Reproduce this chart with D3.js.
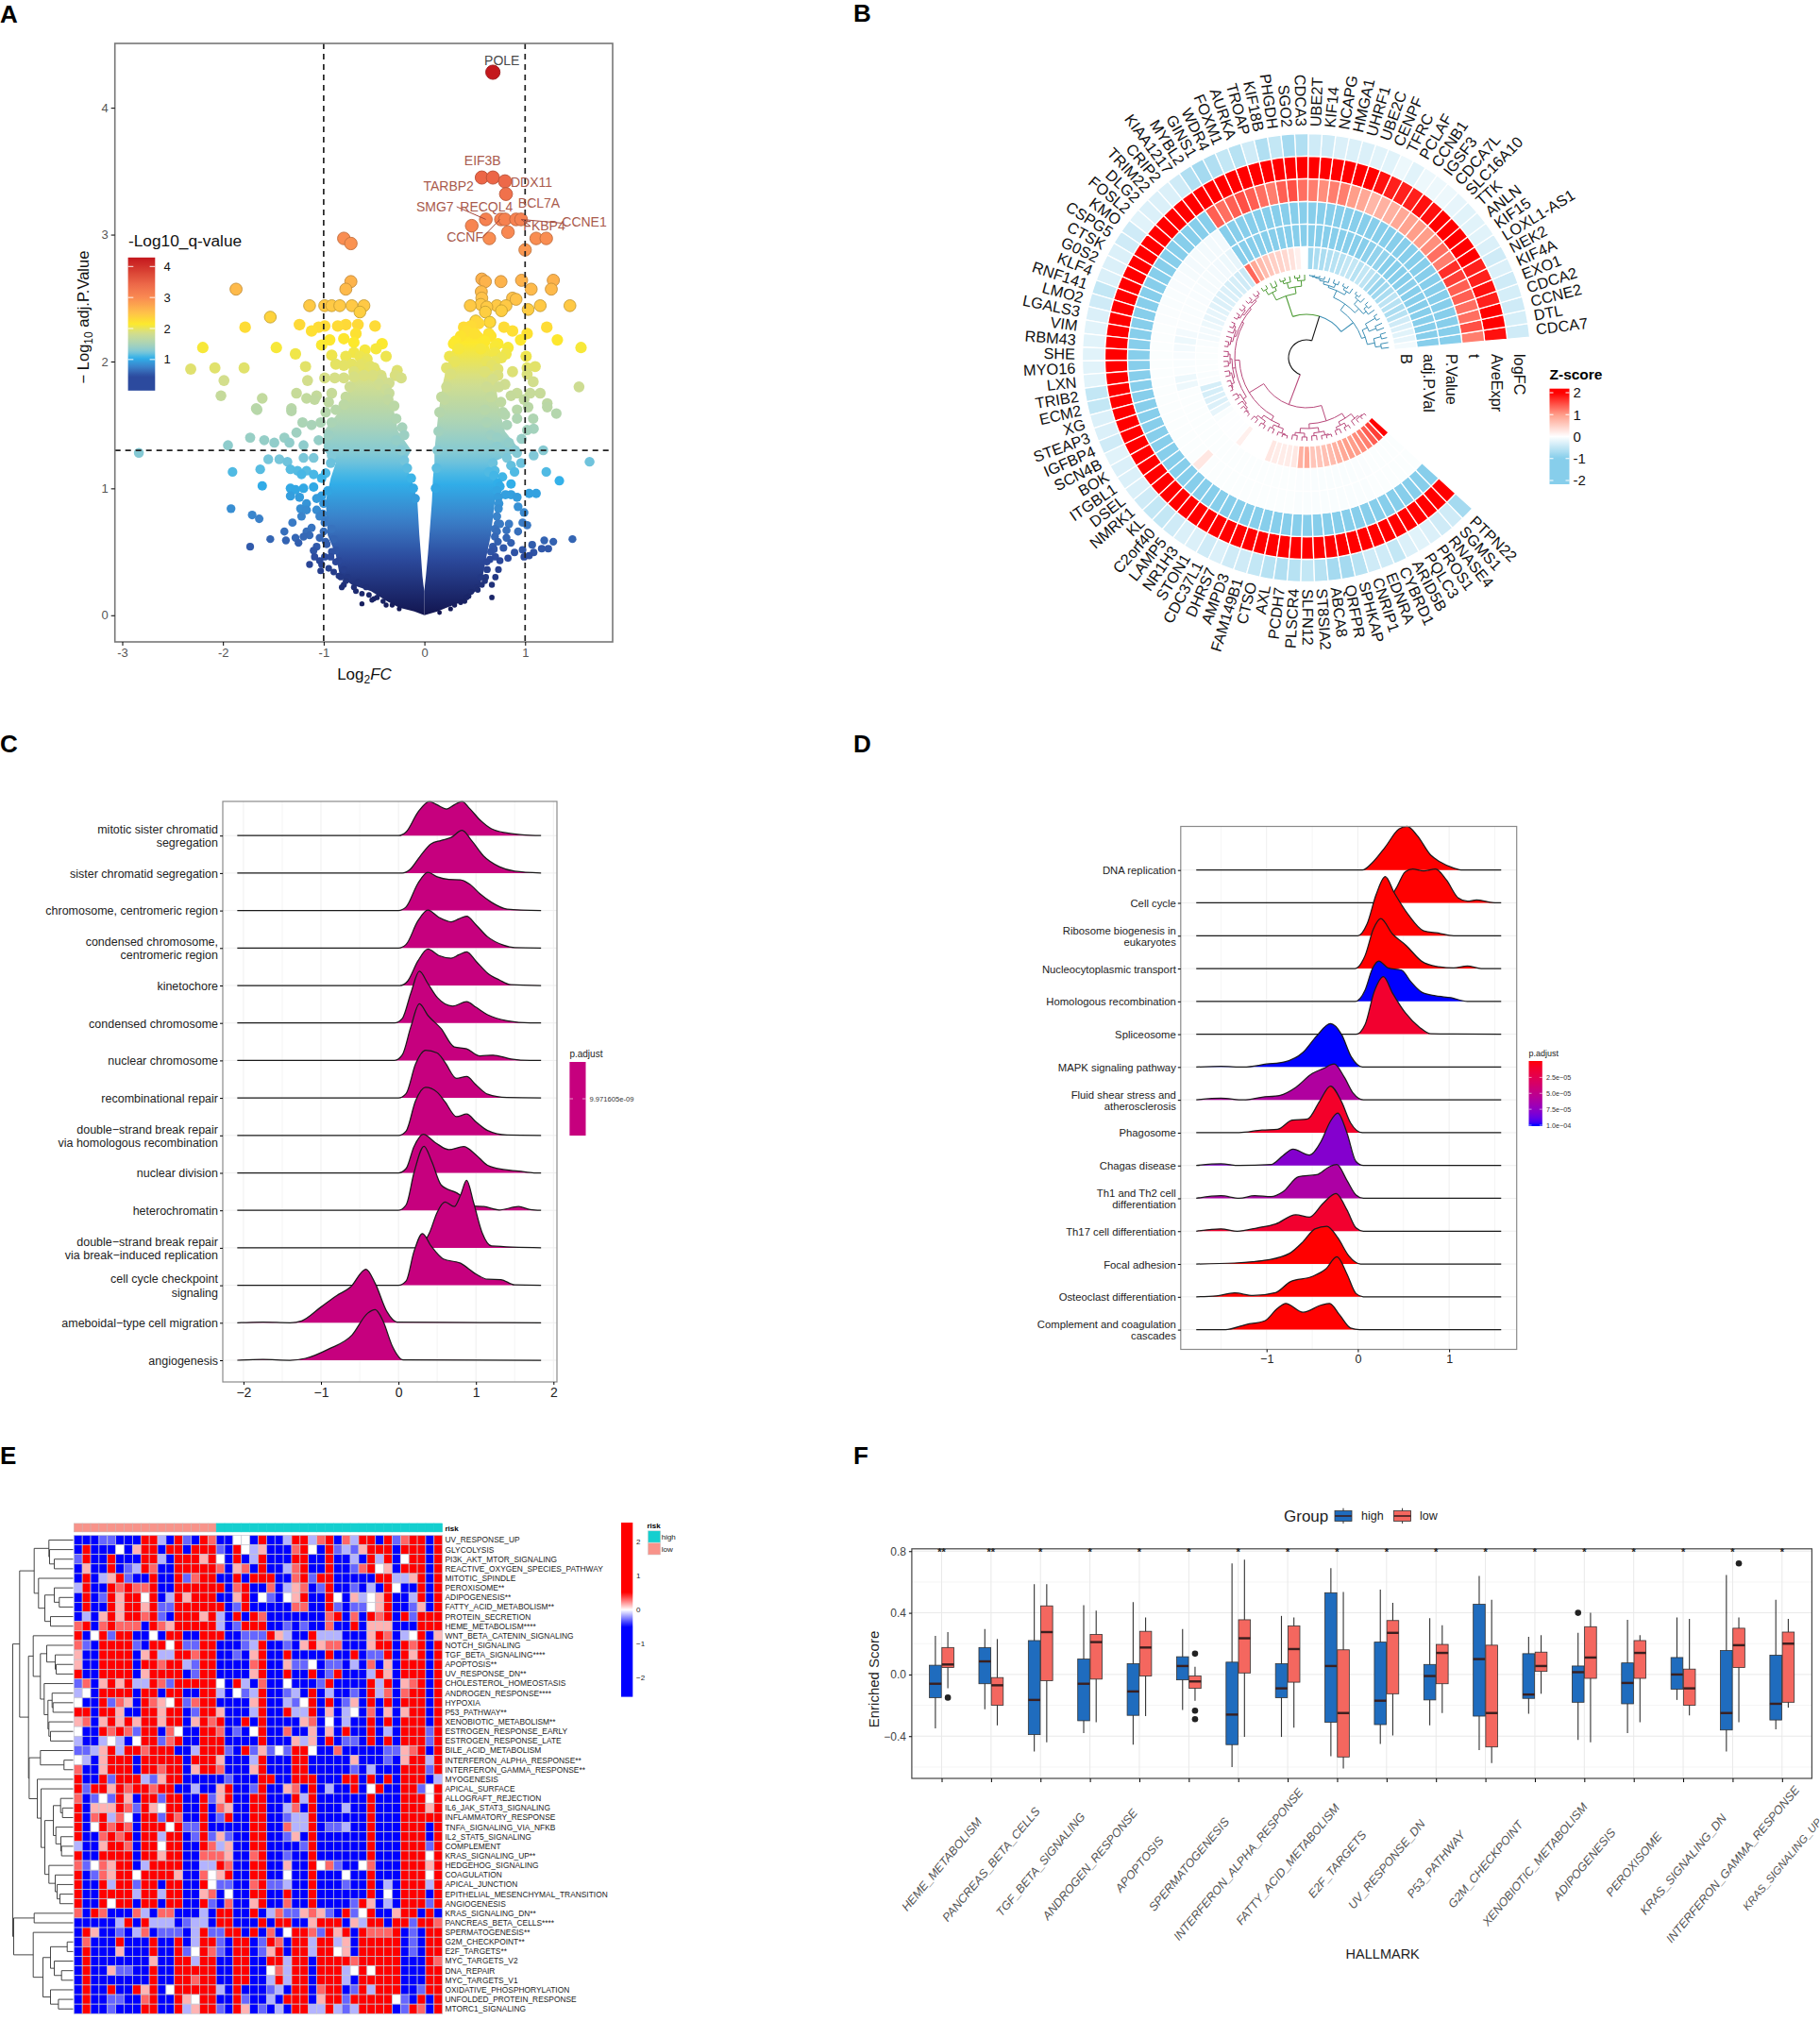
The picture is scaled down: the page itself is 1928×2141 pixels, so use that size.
<!DOCTYPE html>
<html>
<head>
<meta charset="utf-8">
<script src="https://cdn.jsdelivr.net/npm/d3@7"></script>
<style>
body{margin:0;background:#fff}
text{font-family:"Liberation Sans",Arial,sans-serif}
</style>
</head>
<body>
<div id="fig"></div>
<script>
// ---------- panel A data ----------
const volcanoPoints = [
[.68,4.28],[.57,3.45],[.68,3.45],[.8,3.42],[.81,3.32],[.47,3.07],[.61,3.12],[.76,3.12],[.8,3.12],[.91,3.12],[.96,3.12],[.83,3.02],[.645,2.97],[1.11,2.97],[1.21,2.97],[1,2.88],[-.8,2.97],[-.73,2.93],
[-.73,2.63],[-.78,2.57],[-1.87,2.57],[.57,2.65],[.605,2.63],[.76,2.63],[.965,2.64],[1.28,2.64],[1.06,2.57],[1.26,2.57],[.565,2.55],[.57,2.5],[.875,2.5],[.91,2.49],
[.455,2.44],[.56,2.45],[.62,2.43],[.72,2.44],[.81,2.44],[1.03,2.41],[1.15,2.44],[1.445,2.44],[.605,2.39],[.765,2.4],[.51,2.32],[.65,2.31],[.39,2.27],[.79,2.27],[.875,2.24],[1.215,2.27],[1.02,2.22],[1.32,2.17],[1.555,2.11],[.955,2.17],[.31,2.16],
[1.01,2.04],[.83,2.11],[.81,2.06],[1.1,1.96],[1.535,1.8],[1.02,1.95],[.875,1.92],[1.08,1.84],[1.02,1.9],[1.05,1.75],[1.15,1.75],[1.22,1.67],[.92,1.75],[.86,1.73],[.99,1.7],[.73,2.14],[.7,2.07],[.765,2.03],[.67,1.97],[.73,1.89],[.8,1.82],
[-1.53,2.35],[-1.78,2.27],[-2.2,2.11],[-1.47,2.11],[-2.32,1.94],[-2.08,1.95],[-1.79,1.95],[-1.99,1.85],[-1.28,2.06],[-1.18,1.96],[-1.16,1.85],[-2.02,1.73],[-1.61,1.71],[-1.67,1.63],[-1.32,1.63],[-1.27,1.75],[-1.17,1.71],[-1.07,1.73],[-1.09,1.7],
[-1.14,2.44],[-1.24,2.29],[-1.12,2.24],[-1.05,2.27],[-.99,2.28],[-1.02,2.13],[-.94,2.17],[-.99,2.44],[-.92,2.44],[-.84,2.44],[-.72,2.44],[-.6,2.44],[-.64,2.39],[-.86,2.28],[-.78,2.29],[-.66,2.29],[-.49,2.28],[-.68,2.22],[-.8,2.18],[-.7,2.15],[-.42,2.14],[-.48,2.1],[-.59,2.09],[-.38,2.04],[-.92,2.05],[-.99,1.87],[-.7,2.07],[-.78,2.04],[-.64,2.04],[-.57,2.02],[-.88,1.98],[-.8,1.97],[-.72,1.98],[-.64,1.97],[-.54,1.96],[-.27,1.93],[-.23,1.87],[-.29,1.89],[-.43,1.89],[-.35,1.83],[-.51,1.89],[-.6,1.89],[-.7,1.88],[-.8,1.87],[-.89,1.87],[-.35,1.75],[-.45,1.82],
[-.92,1.75],[-.95,1.68],[-.88,1.62],[-.98,1.6],[-1.03,1.52],[-1.12,1.5],[-.92,1.52],[-.3,1.65],[-.28,1.55],[-.22,1.48],[-.2,1.42],[-.95,1.42],[-1.05,1.38],
[-2.835,1.28],[-1.95,1.34],[-1.73,1.4],[-1.59,1.38],[-1.49,1.36],[-1.39,1.4],[-1.34,1.36],[-1.27,1.44],[-1.21,1.52],[-1.2,1.34],[-1.66,1.62],[-1.32,1.61],[-1.55,1.23],[-1.44,1.23],[-1.36,1.21],[-1.2,1.24],[-1.1,1.24],
[-1.905,1.13],[-1.63,1.15],[-1.61,1.02],[-1.92,.84],[-1.71,.79],[-1.64,.76],[-1.73,.54],[-1.53,.6],[-1.39,.66],[-1.375,.59],[-1.33,1.15],[-1.26,1.14],[-1.22,1.11],[-1.17,1.14],[-1.1,1.11],[-1.33,1],[-1.28,.99],[-1.2,1],[-1.1,1.01],[-1.33,.94],[-1.24,.93],[-1.17,.88],[-1.23,.84],[-1.17,.83],[-1.07,.92],[-1.07,.83],[-1.04,.78],[-1.22,.78],[-1.31,.73],[-1.12,.69],[-1.17,.66],[-1.2,.62],[-1.28,.61],[-1.25,.57],[-1.14,.63],[-1.04,.61],[-.98,.58],[-.99,.73],[-1.07,.54],[-1.1,.51],[-.99,.46],[-1.09,.46],[-1.14,.4],[-1.04,.43],[-1.02,.4],[-1.03,.35],[-.95,.37],[-.88,.51],[-.85,.43],[-.85,.31],[-.8,.24],[-.82,.22],[-.68,.19],[-.55,.16],[-.52,.12],[-.62,.09],[-.41,.11],
[-1.02,1.08],[-.96,.98],[-1,.88],[-.98,.75],[-.92,.68],[-.9,.6],[-.92,.5],[-.88,.42],[-.8,.36],[-.76,.3],[-.66,.26],[-.58,.22],[-.47,.14],[-.32,.08],
[1.64,1.21],[1.21,1.13],[1.34,1.06],[1.18,1.3],[1.085,1.26],[1.04,.96],[1.11,.96],[1.47,.6],[1.19,.59],[1.28,.58],[1.23,.525],[1.165,.525],[1.07,.555],[1.085,.495],[1.04,.47],[.99,.46],[.975,.515],[.895,.495],[.86,.57],[.815,.61],[.73,.58],[.785,.53],[.83,.45],[.75,.43],[.705,.46],[.69,.52],[.735,.36],[.625,.36],[.705,.3],[.61,.3],[.67,.24],[.57,.24],[.67,.14],[.465,.185],[.4,.11],
[1.02,.71],[.975,.73],[.93,.66],[.84,.72],[.75,.72],[.815,.67],[.72,.66],[.99,.81],[.93,.855],[.735,.84],[.92,.93],[.86,.95],[.805,.95],[.735,.93],[.86,1.035],[.75,1.015],[.775,1.09],[.69,1.1],[.895,1.13],[.64,1.13],[.86,1.18],[.965,1.39],[1.02,1.46],[1.085,1.47],[1.08,1.55],[1.31,1.59],[1.22,1.64],[1.03,1.64],
[.7,.62],[.66,.5],[.62,.42],[.56,.3],[.52,.22],[.42,.14],[.3,.08],[.72,.78],[.72,.98],[.68,1.2],[.82,1.24],[.92,1.28],[.72,1.33],[.84,1.36],[.66,1.42],[.62,1.52],[.82,1.5],[.92,1.55],[.92,1.62],[.8,1.58],[.6,1.62],[.66,1.72],[.62,1.8],[.68,1.86],[.6,1.92],[.62,2],[.56,2.1],[.6,2.16],[.66,2.2],[.5,2.22],[.42,2.24],[.34,2.1],[.3,2],[.26,1.9],[.22,1.8],[.2,1.7],
// rough rim of the dense cloud
[-.9,.34],[-.83,.3],[-.78,.27],[-.7,.22],[-.62,.17],[-.5,.13],[-.38,.08],[-.25,.05],[-.93,.46],[-.97,.56],[-1,.66],[-1.01,.8],[-1.02,.94],[-.98,1.12],[-.93,1.2],[-.92,1.26],
[.15,.02],[.26,.05],[.36,.1],[.44,.15],[.53,.2],[.6,.27],[.62,.36],[.65,.44],[.68,.54],[.7,.68],[.73,.72],[.74,.88],[.73,1.04],[.7,1.14],[.8,1.28],[.9,1.3],
[-.28,1.38],[-.23,1.3],[-.2,1.22],[-.17,1.16],[-.13,1.08],[-.11,1],[-.09,.92],[.11,1],[.12,1.16],[.13,1.3],[.14,1.45],[.15,1.6],[.17,1.72],
[-.8,1.66],[-.78,1.72],[-.74,1.8],[-.7,1.92],[-.62,1.98],[-.36,1.7],[-.38,1.78],[-.42,1.86],[-.5,1.95],[-.58,2],
[.22,1.95],[.25,2.04],[.29,2.14],[.36,2.2],[.46,2.28],[.54,2.3],[.7,2],[.73,1.94],[.74,1.8],[.76,1.68],[.78,1.6],[.7,2.12],[.64,2.22],[.72,1.4],[.96,1.2]
];
const coreY = [0,.03,.06,.11,.19,.24,.31,.48,.63,.9,1.08,1.2,1.3,1.45,1.6,1.75,1.85,1.95,2.02,2.1,2.2,2.28];
const coreLeftOuter = [0,-.1,-.25,-.37,-.53,-.72,-.84,-.88,-.96,-.98,-.93,-.88,-1,-1,-.85,-.76,-.72,-.68,-.56,-.56,-.56,-.56];
const coreLeftInner = [0,0,0,0,0,-.01,-.02,-.035,-.05,-.07,-.13,-.2,-.13,-.26,-.3,-.34,-.38,-.44,-.54,-.56,-.56,-.56];
const coreRightInner = [0,0,0,0,0,.005,.015,.035,.05,.075,.085,.1,.1,.12,.14,.17,.19,.22,.25,.28,.34,.42];
const coreRightOuter = [0,.13,.22,.39,.51,.55,.58,.62,.66,.7,.7,.66,.95,.8,.75,.72,.7,.68,.67,.65,.6,.5];
const geneLabels = ["POLE","EIF3B","TARBP2","DDX11","BCL7A","SMG7","RECQL4","CCNE1","FKBP4","CCNF"];
const geneLabelX = [.77,.578,.24,1.063,1.138,.105,.616,1.588,1.19,.403];
const geneLabelY = [4.37,3.58,3.38,3.41,3.25,3.22,3.22,3.1,3.07,2.98];
const geneLinks = [[.32,3.22,.61,3.12],[.96,3.12,1.37,3.09],[.58,2.98,.75,3.12],[.96,3.12,1.05,3.07]];
const qStops = [0,.45,.75,1.05,1.25,1.5,1.85,2.15,2.5,3,3.4,4.3];
const qColors = ["#12154f","#2c4a9e","#3b7fc8","#30b0ea","#7fc8d8","#a9d3b8","#d3de8c","#fde92c","#ffc24a","#f98a52","#ee6b4a","#c3161c"];
const qTicks = [1,2,3,4];

// ---------- panel B data ----------
const ringNames = ["logFC","AveExpr","t","P.Value","adj.P.Val","B"];
const circGenes = ["CDCA7","DTL","CCNE2","CDCA2","EXO1","KIF4A","NEK2","LOXL1-AS1","KIF15","ANLN","TTK","SLC16A10","CDCA7L","IGSF3","CCNB1","PCLAF","TFRC","CENPF","UBE2C","UHRF1","HMGA1","NCAPG","KIF14","UBE2T","CDCA3","SGO2","PHGDH","KIF18B","TROAP","AURKA","FOXM1","WDR4","GINS1","MYBL2","KIAA1217","CRIP2","TRIM22","DLG2","FOSL2","KMO","CSPG5","CTSK","G0S2","KLF4","RNF141","LMO2","LGALS3","VIM","RBM43","SHE","MYO16","LXN","TRIB2","ECM2","XG","STEAP3","IGFBP4","SCN4B","BOK","ITGBL1","DSEL","NMRK1","KL","C2orf40","LAMP5","NR1H3","STON1","CDC37L1","DHRS7","AMPD3","FAM149B1","CTSO","AXL","PCDH7","PLSCR4","SLFN12","ST8SIA2","ABCA8","QRFPR","SPHKAP","CNRIP1","EDNRA","CYBRD1","ARID5B","PQLC3","PROS1","RNASE4","SGMS1","PTPN22"];
const ringLogFC = [-.4,-.35,-.4,-.35,-.4,-.3,-.4,-.3,-.25,-.25,-.25,-.2,-.15,-.15,-.15,-.25,-.15,-.25,-.25,-.3,-.3,-.3,-.4,-.4,-.65,-.75,-.5,-.65,-.4,-.6,-.5,-.65,-.75,-.65,-.4,-.3,-.3,-.3,-.25,-.4,-.4,-.3,-.3,-.3,-.5,-.4,-.3,-.25,-.25,-.25,-.25,-.25,-.5,-.5,-.3,-.3,-.4,-.25,-.3,-.3,-.3,-.4,-.5,-.5,-.4,-.3,-.3,-.4,-.3,-.4,-.4,-.5,-.6,-.65,-.6,-.5,-.6,-.75,-.75,-.6,-.4,-.4,-.5,-.3,-.25,-.3,-.4,-.4,-.75];
const ringAveExpr = [1.9,2,2,1.8,1.9,1.8,1.8,2,2,2,2,2,1.9,1.9,1.8,1.8,1.8,1.9,2,2,2,2,2,2,2,2,2,2,2,2,2,2,2,2,2,2,2,2,2,2,2,2,2,2,2,2,2,2,2,2,2,2,2,2,2,2,2,2,2,2,2,2,2,2,2,2,2,2,2,2,2,2,2,2,2,2,2,2,2,2,2,2,2,2,2,2,2,2,2];
const ringT = [1.2,1.5,1.3,1.3,1.4,1.4,1.6,1.7,1.2,1.3,1.1,1,1,.95,.9,.8,.8,.75,.9,1,1.2,1.2,1.1,1.2,1.3,1.5,1.4,1.2,1.3,1.4,1.5,1.4,1.3,1.4,-1.2,-1.2,-1.3,-1.2,-1.3,-1.2,-1.2,-1.3,-1.3,-1.3,-1.2,-1.3,-1.3,-1.4,-1.4,-1.3,-1.3,-1.3,-1.2,-1.2,-1.2,-1.3,-1.3,-1.2,-1.2,-1.3,-1.3,-1.3,-1.3,-1.2,-1.3,-1.3,-1.3,-1.2,-1.2,-1.3,-1.3,-1.4,-1.3,-1.2,-1.4,-1.3,-1.2,-1.3,-1.3,-1.3,-1.2,-1.3,-1.3,-1.2,-1.3,-1.4,-1.3,-1.3,-1.4];
const ringP = [-1.2,-1.2,-1.2,-1.25,-1.15,-1.2,-1.3,-1.2,-1.1,-1.2,-1.3,-1.3,-1.2,-1.15,-1.1,-1.15,-1.15,-1.15,-1.15,-1.2,-1.2,-1.2,-1.3,-1.2,-1.25,-1.25,-1.25,-1.25,-1.3,-1.3,-1.3,-1.2,-1.2,-1.2,-.1,-.1,-.1,-.08,-.1,-.08,-.06,-.06,-.05,-.05,-.04,-.04,-.03,-.03,-.03,-.03,-.03,-.03,-.03,-.03,-.03,-.03,-.03,-.03,-.03,-.03,-.03,-.03,.25,-.03,-.03,-.03,-.03,-.03,-.03,-.03,-.03,-.03,-.03,-.03,-.05,-.05,-.05,-.05,-.05,-.05,-.05,-.05,-.05,-.03,-.03,-.03,-.03,-.03,-.03];
const ringAdj = [-1,-1,-1,-1.05,-1,-1.05,-1.1,-1.05,-.95,-1,-1.05,-1.1,-1,-.9,-.9,-.95,-1,-1,-1,-1,-1.05,-1.05,-1.1,-1.05,-1.1,-1.1,-1.1,-1.1,-1.15,-1.15,-1.15,-1.1,-1.1,-1.1,-.2,-.15,-.12,-.1,-.08,-.08,-.07,-.06,-.05,-.05,-.04,-.04,-.1,-.15,-.1,-.06,-.05,-.05,-.15,-.15,-.03,-.03,-.03,-.03,-.03,-.03,-.03,-.03,-.03,-.03,-.03,-.03,-.03,-.03,-.03,-.03,-.03,-.03,-.03,-.03,-.04,-.04,-.05,-.05,-.05,-.05,-.05,-.05,-.04,-.04,-.03,-.03,-.03,-.03,-.03];
const ringB = [-.1,-.2,-.25,-.3,-.4,-.6,-.7,-.6,-.55,-.7,-.8,-.85,-.7,-.55,-.5,-.6,-.5,-.5,-.6,-.6,-.65,-.7,-.7,-.8,0,.15,.3,.4,.45,.5,.6,.7,.9,1.35,-.45,-.4,-.35,-.35,-.3,-.3,-.3,-.25,-.2,-.2,-.15,-.1,-.1,-.05,-.03,-.03,-.03,-.03,-.05,-.05,-.35,-.35,-.3,-.3,-.2,-.05,-.02,-.02,-.02,-.02,.15,0,0,0,0,.25,.2,.2,.2,.25,.8,.9,.6,.6,.65,.7,.8,.9,1,1,1.1,1.2,1.4,1.6,2.3];
const ringValues = [ringLogFC,ringAveExpr,ringT,ringP,ringAdj,ringB];
const zScoreTicks = [2,1,0,-1,-2];
const zScoreStops = [-2,-1,0,1,2];
const zScoreColors = ["#87ceeb","#87ceeb","#ffffff","#ff9e8a","#ff0000"];
// dendrogram nodes are [radius, child, child, ...], a bare number is a gene index
const treeBlue = [62,
  [66,[74,[80,0,1],[82,2,3]],[72,[80,4,5],[84,6,7]]],
  [70,[76,[80,8,[84,9,10]],[82,11,[85,12,13]]],[78,[82,14,[85,15,16]],[80,[84,17,18],[83,19,[85,20,[86,21,[87,22,23]]]]]]]];
const treeGreen = [69,[76,[82,24,[85,25,26]],[82,27,[85,28,29]]],[78,[82,30,31],[84,32,33]]];
const treeMagenta = [53,
  [71,
    [76,[78,[80,[82,[84,34,35],[84,36,37]],[82,[84,38,39],[84,40,41]]],[80,[82,[84,42,43],44],[82,45,[84,46,47]]]],[79,[81,[83,48,49],[83,50,51]],[81,[83,52,53],[84,54,[85,55,56]]]],[80,[83,57,58],[82,59,[84,60,[85,61,62]]]]],
    [76,[80,[83,63,64],[84,65,66]],[79,[83,67,68],[84,69,[85,70,71]]]]],
  [70,
    [75,[80,[83,72,73],[84,74,75]],[80,[83,76,77],[84,78,[85,79,80]]]],
    [76,[80,[83,81,82],[84,83,84]],[82,85,[84,86,[85,87,88]]]]]];

// ---------- panel C data: density control points [x, height in row steps] ----------
const ridgeLabelsC = ["mitotic sister chromatid\nsegregation","sister chromatid segregation","chromosome, centromeric region","condensed chromosome,\ncentromeric region","kinetochore","condensed chromosome","nuclear chromosome","recombinational repair","double−strand break repair\nvia homologous recombination","nuclear division","heterochromatin","double−strand break repair\nvia break−induced replication","cell cycle checkpoint\nsignaling","ameboidal−type cell migration","angiogenesis"];
const ridgesC = [
[[-2.08,0],[0,0],[.1,.1],[.25,.62],[.4,.91],[.5,.82],[.62,.71],[.72,.82],[.82,.91],[.92,.72],[1.05,.42],[1.2,.18],[1.4,.07],[1.6,.02],[1.84,0]],
[[-2.08,0],[.05,0],[.15,.1],[.28,.45],[.42,.78],[.55,.87],[.68,.95],[.82,1.14],[.95,.85],[1.1,.45],[1.3,.17],[1.5,.05],[1.84,0]],
[[-2.08,0],[0,0],[.1,.1],[.25,.72],[.38,1.02],[.5,.9],[.65,.83],[.8,.82],[.92,.7],[1.05,.45],[1.2,.22],[1.4,.04],[1.84,0]],
[[-2.08,0],[0,0],[.1,.1],[.25,.72],[.38,1.01],[.52,.82],[.68,.7],[.78,.78],[.88,.85],[1,.62],[1.15,.3],[1.35,.08],[1.5,.01],[1.84,0]],
[[-2.08,0],[.02,0],[.12,.12],[.25,.65],[.38,.97],[.52,.8],[.68,.73],[.78,.82],[.88,.9],[1,.65],[1.15,.33],[1.3,.15],[1.45,.02],[1.84,0]],
[[-2.08,0],[-.05,0],[.05,.12],[.16,.8],[.27,1.38],[.38,1.05],[.5,.68],[.7,.45],[.88,.57],[1,.42],[1.15,.22],[1.4,.06],[1.7,0],[1.84,0]],
[[-2.08,0],[-.05,0],[.05,.15],[.16,.9],[.27,1.51],[.38,1.2],[.55,.85],[.72,.36],[.88,.31],[1.05,.12],[1.22,.14],[1.45,.04],[1.7,0],[1.84,0]],
[[-2.08,0],[0,0],[.1,.12],[.22,.9],[.35,1.27],[.5,1.2],[.6,.95],[.75,.52],[.88,.57],[1,.35],[1.15,.1],[1.4,.01],[1.84,0]],
[[-2.08,0],[0,0],[.1,.12],[.22,.92],[.35,1.28],[.5,1.15],[.6,.9],[.75,.5],[.88,.57],[1,.36],[1.15,.13],[1.4,.01],[1.84,0]],
[[-2.08,0],[0,0],[.1,.12],[.2,.7],[.32,1.03],[.48,.8],[.65,.62],[.84,.7],[1,.48],[1.15,.2],[1.35,.09],[1.55,.05],[1.75,0],[1.84,0]],
[[-2.08,0],[0,0],[.1,.15],[.2,1],[.33,1.71],[.43,1.3],[.55,.68],[.8,.4],[.92,.12],[1.1,.1],[1.3,.01],[1.55,.1],[1.7,.02],[1.84,0]],
[[-2.08,0],[.25,0],[.4,.4],[.5,.95],[.6,1.22],[.72,1.1],[.8,1.4],[.88,1.8],[.97,1.2],[1.08,.4],[1.2,.05],[1.84,0]],
[[-2.08,0],[0,0],[.1,.12],[.2,.9],[.31,1.38],[.42,1.05],[.58,.7],[.8,.59],[1,.3],[1.15,.16],[1.32,.15],[1.5,.01],[1.84,0]],
[[-2.08,0],[-1.75,.02],[-1.4,0],[-1.25,.05],[-1,.42],[-.8,.72],[-.62,.95],[-.42,1.43],[-.3,1.05],[-.15,.3],[-.02,.02],[1.84,0]],
[[-2.08,0],[-1.75,.02],[-1.4,0],[-1.2,.05],[-.9,.3],[-.6,.67],[-.4,1.25],[-.3,1.35],[-.2,1.05],[-.08,.38],[.06,.01],[1.84,0]]
];

// ---------- panel D data ----------
const ridgeLabelsD = ["DNA replication","Cell cycle","Ribosome biogenesis in\neukaryotes","Nucleocytoplasmic transport","Homologous recombination","Spliceosome","MAPK signaling pathway","Fluid shear stress and\natherosclerosis","Phagosome","Chagas disease","Th1 and Th2 cell\ndifferentiation","Th17 cell differentiation","Focal adhesion","Osteoclast differentiation","Complement and coagulation\ncascades"];
const ridgesD = [
[[-1.77,0],[.05,0],[.15,.2],[.3,.7],[.45,1.25],[.54,1.33],[.65,1.05],[.8,.45],[.9,.25],[1.05,.06],[1.15,0],[1.57,0]],
[[-1.77,0],[.3,0],[.42,.45],[.52,.95],[.6,1.03],[.72,.97],[.85,1.03],[.97,.7],[1.1,.15],[1.2,.05],[1.3,.09],[1.45,.02],[1.57,0]],
[[-1.77,0],[0,0],[.1,.35],[.2,1.25],[.3,1.8],[.4,1.3],[.55,.65],[.72,.15],[.88,.08],[1.05,0],[1.57,0]],
[[-1.77,0],[-.03,0],[.08,.4],[.17,1.2],[.25,1.52],[.38,1.05],[.53,.7],[.7,.22],[.85,.07],[1.05,.02],[1.2,.08],[1.35,0],[1.57,0]],
[[-1.77,0],[-.03,0],[.08,.35],[.16,1],[.23,1.23],[.33,1.02],[.48,.95],[.58,.6],[.7,.28],[.85,.17],[1.02,.11],[1.2,0],[1.57,0]],
[[-1.77,0],[-.02,0],[.08,.3],[.18,1.3],[.28,1.75],[.38,1.25],[.52,.65],[.68,.2],[.8,.01],[1.57,0]],
[[-1.77,0],[-1.5,.02],[-1.25,0],[-1,.09],[-.8,.16],[-.6,.45],[-.45,.95],[-.3,1.32],[-.18,1],[-.07,.3],[.05,0],[1.57,0]],
[[-1.77,0],[-1.5,.05],[-1.25,0],[-1.05,.08],[-.85,.14],[-.68,.38],[-.5,.8],[-.38,.95],[-.26,1.09],[-.15,.7],[-.05,.2],[.06,0],[1.57,0]],
[[-1.77,0],[-1.3,0],[-1.05,.08],[-.88,.1],[-.72,.38],[-.55,.42],[-.42,.95],[-.3,1.42],[-.18,.95],[-.08,.3],[.05,0],[1.57,0]],
[[-1.77,0],[-1.5,.05],[-1.3,0],[-.95,.03],[-.82,.3],[-.71,.5],[-.53,.32],[-.4,.75],[-.3,1.35],[-.22,1.6],[-.12,1],[-.02,.12],[.06,0],[1.57,0]],
[[-1.77,0],[-1.5,.08],[-1.3,0],[-1.13,.08],[-.95,.05],[-.82,.2],[-.65,.66],[-.45,.72],[-.32,.95],[-.23,1.03],[-.12,.55],[-.02,.1],[.06,0],[1.57,0]],
[[-1.77,0],[-1.5,.07],[-1.32,0],[-1.1,.1],[-.9,.22],[-.68,.5],[-.53,.43],[-.38,.85],[-.24,1.15],[-.12,.65],[-.02,.1],[.06,0],[1.57,0]],
[[-1.77,0],[-1.35,.03],[-1.15,.07],[-1,.12],[-.75,.32],[-.6,.68],[-.47,1.07],[-.34,1.15],[-.22,.8],[-.1,.25],[.03,0],[1.57,0]],
[[-1.77,0],[-1.55,.03],[-1.35,.12],[-1.15,.04],[-.9,.13],[-.74,.46],[-.5,.62],[-.35,.85],[-.23,1.22],[-.12,.7],[-.02,.1],[.06,0],[1.57,0]],
[[-1.77,0],[-1.45,0],[-1.22,.16],[-1.02,.27],[-.88,.65],[-.79,.8],[-.6,.53],[-.4,.75],[-.31,.8],[-.2,.45],[-.08,.05],[.02,0],[1.57,0]]
];
const pAdjustD = [0,0,0,0,1e-4,1.2e-5,1e-4,6e-5,1e-5,8e-5,6.2e-5,1.2e-5,0,0,0];
const pAdjustTicks = [2.5e-5,5e-5,7.5e-5,1e-4];

// ---------- panel E data: B b l w p s R run from strong blue through white to strong red ----------
const heatLabels = ["UV_RESPONSE_UP","GLYCOLYSIS","PI3K_AKT_MTOR_SIGNALING","REACTIVE_OXYGEN_SPECIES_PATHWAY","MITOTIC_SPINDLE","PEROXISOME**","ADIPOGENESIS**","FATTY_ACID_METABOLISM**","PROTEIN_SECRETION","HEME_METABOLISM****","WNT_BETA_CATENIN_SIGNALING","NOTCH_SIGNALING","TGF_BETA_SIGNALING****","APOPTOSIS**","UV_RESPONSE_DN**","CHOLESTEROL_HOMEOSTASIS","ANDROGEN_RESPONSE****","HYPOXIA","P53_PATHWAY**","XENOBIOTIC_METABOLISM**","ESTROGEN_RESPONSE_EARLY","ESTROGEN_RESPONSE_LATE","BILE_ACID_METABOLISM","INTERFERON_ALPHA_RESPONSE**","INTERFERON_GAMMA_RESPONSE**","MYOGENESIS","APICAL_SURFACE","ALLOGRAFT_REJECTION","IL6_JAK_STAT3_SIGNALING","INFLAMMATORY_RESPONSE","TNFA_SIGNALING_VIA_NFKB","IL2_STAT5_SIGNALING","COMPLEMENT","KRAS_SIGNALING_UP**","HEDGEHOG_SIGNALING","COAGULATION","APICAL_JUNCTION","EPITHELIAL_MESENCHYMAL_TRANSITION","ANGIOGENESIS","KRAS_SIGNALING_DN**","PANCREAS_BETA_CELLS****","SPERMATOGENESIS**","G2M_CHECKPOINT**","E2F_TARGETS**","MYC_TARGETS_V2","DNA_REPAIR","MYC_TARGETS_V1","OXIDATIVE_PHOSPHORYLATION","UNFOLDED_PROTEIN_RESPONSE","MTORC1_SIGNALING"];
const heatRows = [
"BBBbbBBBRRlBRbBRsBBwwBRBBlRRlsRBslRRBRbsRRBR","BRBBBwBpRRBRRBRRRbBRwlpBBBsRwBRblbpRRRBRRRBR","bRBBRBBBRRlBRRRpRwBRBlRBBBRRBBRBBlBRlRBwRRBR","BpBBRBblRsBBRRRRRsBpsBRBBlsRBBRBBbsRwpBRRRBR","BRBlpRbBBRBBRbsRRBBRBRRRBBsRbRRBBBBBRRllpRBR",
"lRBBRsRssRBBRRRRRRBsRBBsBlpsBbRBBbBlBRwBBRBR","BRBbRpRRwRBlRpRRRBBpRBwbBwpRBBRwBplwpRBBlRBR","BRBBRpRRpRbbRRRRRRBbRBBBBBssBBRbBbbwpRBBbpBR","BlBpRpRRsRbBRRRpRlBRBRsBBBBBBBsRBsBRsRBRbRRR","sRBsRsssBRspRRRRRlBbRRRBBbBbBBsBBRBpppBBBRRR",
"RBwRbRRBBwBRRBBRRRBBbbbRplBBRlllBBBpRsBlwRBp","sbBRRRRbBRRwRbbRRBBBblRBBbBpRpssBBBpRRBRsRBR","pBBRRRRBpRllRRsRRBBbBpRBBRBBBBRBBRBbbRBRpRBR","pBBRRRRBRRsRRlbRRBBBBsRBBpbbwBbbBlBsBpBRRRBR","RBBRRRRBpRRRRBbRRBBBBpRBBRBBRBbRBBBlRpBRRRBR",
"bsBpRpRllRsbRRRRRwBRlBsBBwBBBbRBBBBRlRBpsRBR","lwBRRRRBRRBRRBBRRlBwblRBBblBRBlBBbBRlsBsRRBR","wBBRbspBRspwRbsRRBBBBpRBBlbwRBRBbpBRBRBRRRBR","RRBRRpBBRRpRRBbRRpBBBlRBBRllRBpBlwBsBpBpRRBR","psBpRpRpRRpRRBpRsRBBRBRBBBBpsBwBlBBRBRBRRRBR",
"wBBRsRsbRRBswBBRRsBbBwRBBsBBpBpBRBBRBlBRRRbR","lBBlwlBwRRbsRBBRRRBBBBRBBBplpBRBbbBRBRBRRRbR","bblpRlRRsRRRBBlRRRbBRbpbwbRRwBBsBBBBBbbpsRBR","wlBpRRRBRRRRRBRRRpBBBlRBBBRRBBBBBpBBBbBpRRlR","sBBpRRRBRRsRRBpRRsBBBpRBBBRRBBBBBbBlBBBRRRbR",
"RBBRbRRRlbpRRBBBBBbBBBRRBBRRRBBBRRBRBRBRRRBl","RbRRpRsRRsRRBBlBBpRBBbRBBpsBRBlBBRBwRBBRRbwR","sBbwbRpBRRbRRBBRbpRBBRRBBBRlRBBBBBBRBBBRRRwR","RBpppRsbRpwRRBBRBspBBRRBBlsBRBBBlBBRBBBRRRpR","RBsRlswBRRbRsBBRBbRBBRRBBbllRBBBBBBRBBBRRRRR",
"RBwRsRsBRRRwRbbRBBBBBRRBBsllRBbblBBRBBBRRRBR","RBBsRsRBRRlRRBbRbpbBBRRBBbpBRBBBBBBRBBBRRRBR","lBBpRRsBRRwRRBBRslpBBRRBBBBbRBBBBBBRBBBRRRbR","RBBRRRRBRRpRRBBssspBBsRBBbBBRBBBBBBRBBBRRRwR","sbwspRRBlRRRRBBllRsBBRRBBpBBRwsbBBwsBBBRRRpR",
"RBbspRRwRRRRpBBswpRBBRRBBwBBRBBBwBBRBBBRRRwR","RBBRlRRbRRBRRBBRwbbBBsRbblBBRBBBbBBRBlBRRRlR","RBBRRRRlRRlRRBBpsBwBBRRBBRBBRBBBBBBRBwBRRRBR","RBBRwRRBRRBRRBBRbBsBBpRBBsBBRBBBBbRpBlBRRRbR","sBRsBBBslBssBBBlBRRBBRBlsbbpspbBRbwRBBpRRBRB",
"BBBBBlRBRlllBbllBRRBBBRBRRBBpRRRBplRRBRRbRRs","BRpBBbBlsBbbbBlRbbRRBRBsBwRRsbRpRBRsssRBbBRR","BsBBBRBBBRBBRBlRRbBRRBbRsBRRlRRlpBRRRRRBbBRR","BRBBBpBBBRBBRbwRsbBRRBbpRBRRlRRwpBRRRRRBbBRR","BRBBBBBBBpBBRRlRRBBRRBBRRlRRBRRRRsRRRRRBBBRs",
"BRBBpbbBBRBBRRRRRBBRRBBwslRRBRRRlwRwRRRBBBRR","BRBBBBBBBRBBRRsRRBBRRBBlRlRRBRRRlBRRRRRBBBRR","BRBBRBBRpRBwRRRRRlBRBBBblBRRBsRRBbRlRRRBBbRR","BRBBbbBBsRBBRpwRRBBRbBBlBRRRBpRRbRRRRRwbBRBR","BRBBbBBBRRBBRlpRRbBRpBbBlBRRllRlblRRRRBbRsBR"
];
const heatLevels = {B:-1.5,b:-.3,l:-.15,w:0,p:.15,s:.3,R:1.5};
const riskLowColumns = 17;
const heatLegendTicks = [2,1,0,-1,-2];
// row dendrogram: [height, child, child, ...], a bare number is a row (1-based)
const heatTree = [64,
  [56.7,
    [41.3,[25.7,1,[25,2,[20,3,4]]],[36.7,5,[30,[20,6,[14.7,7,8]],[24,9,10]]]],
    [47.3,
      [42.3,11,[34.7,[28,12,[19,13,[18,14,15]]],[30.7,16,[26.7,[22.3,17,[21.3,18,19]],[25.7,20,[24,21,22]]]]]],
      [46.6,[34.7,23,[9.7,24,25]],[38,26,[34,27,[30,[21,[13.3,28,[11.3,29,30]],[18.3,31,[13,32,[12.3,33,34]]]],[25.7,35,[19,36,[17,37,[14,38,39]]]]]]]]]],
  [63,[41.3,40,41],[42.3,42,[32,[24,[6.3,43,44],[20,45,[12.3,46,47]]],[24,48,[15.6,49,50]]]]]];

// ---------- panel F data ----------
const hallmarks = ["HEME_METABOLISM","PANCREAS_BETA_CELLS","TGF_BETA_SIGNALING","ANDROGEN_RESPONSE","APOPTOSIS","SPERMATOGENESIS","INTERFERON_ALPHA_RESPONSE","FATTY_ACID_METABOLISM","E2F_TARGETS","UV_RESPONSE_DN","P53_PATHWAY","G2M_CHECKPOINT","XENOBIOTIC_METABOLISM","ADIPOGENESIS","PEROXISOME","KRAS_SIGNALING_DN","INTERFERON_GAMMA_RESPONSE","KRAS_SIGNALING_UP"];
// each box: low whisker, q1, median, q3, high whisker
const boxesHigh = [[-.35,-.15,-.06,.06,.25],[-.225,-.06,.085,.175,.295],[-.5,-.39,-.165,.22,.585],[-.38,-.3,-.06,.1,.45],[-.455,-.265,-.11,.07,.47],[-.23,-.035,.055,.115,.295],[-.6,-.455,-.26,.08,.72],[-.405,-.15,-.09,.07,.38],[-.53,-.31,.055,.53,.69],[-.45,-.325,-.17,.21,.55],[-.33,-.165,-.01,.065,.365],[-.49,-.27,.1,.455,.64],[-.255,-.155,-.13,.135,.245],[-.425,-.18,.015,.055,.27],[-.38,-.19,-.055,.075,.355],[-.165,-.095,0,.11,.37],[-.5,-.36,-.25,.155,.645],[-.355,-.295,-.19,.125,.485]];
const boxesLow = [[-.09,.045,.065,.175,.275],[-.33,-.2,-.07,-.02,.23],[-.44,-.04,.275,.445,.585],[-.31,-.03,.21,.26,.415],[-.27,-.01,.175,.28,.37],[-.17,-.09,-.045,-.01,.05],[-.405,.01,.235,.355,.745],[-.345,-.05,.165,.315,.37],[-.61,-.535,-.25,.16,.535],[-.395,-.125,.27,.35,.465],[-.25,-.06,.14,.195,.32],[-.575,-.47,-.25,.19,.485],[-.125,.02,.055,.145,.255],[-.44,-.025,.11,.31,.4],[-.31,-.025,.14,.22,.255],[-.265,-.2,-.09,.035,.36],[-.31,.045,.19,.3,.37],[-.215,-.18,.2,.275,.36]];
const outliersHigh = [[13,.4]];
const outliersLow = [[0,-.15],[5,.135],[5,-.235],[5,-.29],[16,.72]];
const sigMarks = ["**","**","*","*","*","*","*","*","*","*","*","*","*","*","*","*","*","*"];
const groupColors = {high:"#1f6cbe",low:"#f4675f"};

// ---------- page ----------
const W = 1928, H = 2141;
const svg = d3.select("#fig").append("svg").attr("width",W).attr("height",H);
svg.append("rect").attr("width",W).attr("height",H).attr("fill","#fff");
const defs = svg.append("defs");

const panelNames = ["A","B","C","D","E","F"];
const panelX = [0,904,0,904,0,904];
const panelY = [24,23,797,797,1551,1551];
svg.selectAll(".panel").data(panelNames).enter().append("text")
  .attr("x",(d,i)=>panelX[i]).attr("y",(d,i)=>panelY[i])
  .attr("font-size",26).attr("font-weight","bold").text(d=>d);

function verticalGradient(id,color,top,bottom,y1,y2){
  const g = defs.append("linearGradient").attr("id",id).attr("gradientUnits","userSpaceOnUse")
    .attr("x1",0).attr("x2",0).attr("y1",y1).attr("y2",y2);
  d3.range(0,1.0001,.02).forEach(t=>{
    g.append("stop").attr("offset",t).attr("stop-color",color(top+(bottom-top)*t));
  });
}

// ---------- A: volcano ----------
function drawVolcano(){
  const f = {l:121.7,r:649,t:46,b:680};
  const x = d3.scaleLinear().domain([-3.073,1.869]).range([f.l,f.r]);
  const y = d3.scaleLinear().domain([-.21,4.507]).range([f.b,f.t]);
  const color = d3.scaleLinear().domain(qStops).range(qColors).clamp(true);
  const radius = d3.scaleLinear().domain([0,.5,1,2,4.3]).range([2.4,4,5,6,7.6]);
  verticalGradient("coreFill",color,4.3,0,y(4.3),y(0));
  const g = svg.append("g");
  const rows = coreY.map((v,i)=>({y:v,lo:coreLeftOuter[i],li:coreLeftInner[i],ri:coreRightInner[i],ro:coreRightOuter[i]}));
  g.append("path").datum(rows).attr("fill","url(#coreFill)")
    .attr("d",d3.area().y(d=>y(d.y)).x0(d=>x(d.lo)).x1(d=>x(d.li)));
  g.append("path").datum(rows).attr("fill","url(#coreFill)")
    .attr("d",d3.area().y(d=>y(d.y)).x0(d=>x(d.ri)).x1(d=>x(d.ro)));
  const pts = volcanoPoints.slice().sort((a,b)=>d3.ascending(b[1],a[1]));
  g.selectAll("circle").data(pts).enter().append("circle")
    .attr("cx",d=>x(d[0])).attr("cy",d=>y(d[1])).attr("r",d=>radius(d[1]))
    .attr("fill",d=>color(d[1]))
    .attr("stroke",d=>d[1]>2.3?d3.color(color(d[1])).darker(.7):"none").attr("stroke-width",.9);
  [[-1,-1,f.t,f.b],[1,1,f.t,f.b]].forEach(v=>{
    g.append("line").attr("x1",x(v[0])).attr("x2",x(v[1])).attr("y1",v[2]).attr("y2",v[3])
      .attr("stroke","#222").attr("stroke-width",1.7).attr("stroke-dasharray","6 5");
  });
  g.append("line").attr("x1",f.l).attr("x2",f.r).attr("y1",y(1.3)).attr("y2",y(1.3))
    .attr("stroke","#222").attr("stroke-width",1.7).attr("stroke-dasharray","6 5");
  g.append("rect").attr("x",f.l).attr("y",f.t).attr("width",f.r-f.l).attr("height",f.b-f.t)
    .attr("fill","none").attr("stroke","#777").attr("stroke-width",1.6);
  const ax = g.append("g").attr("transform",`translate(0,${f.b})`)
    .call(d3.axisBottom(x).tickValues([-3,-2,-1,0,1]).tickFormat(d3.format("d")).tickSize(4));
  const ay = g.append("g").attr("transform",`translate(${f.l},0)`)
    .call(d3.axisLeft(y).tickValues([0,1,2,3,4]).tickFormat(d3.format("d")).tickSize(4));
  [ax,ay].forEach(a=>{
    a.select(".domain").remove();
    a.selectAll("text").attr("font-size",13).attr("fill","#555").style("font-family","Liberation Sans");
    a.selectAll("text").text(d=>String(d));
  });
  geneLinks.forEach(l=>{
    g.append("line").attr("x1",x(l[0])).attr("y1",y(l[1])).attr("x2",x(l[2])).attr("y2",y(l[3]))
      .attr("stroke","#a5483a").attr("stroke-width",1);
  });
  g.selectAll(".gene").data(geneLabels).enter().append("text")
    .attr("x",(d,i)=>x(geneLabelX[i])).attr("y",(d,i)=>y(geneLabelY[i])).attr("dy",".35em")
    .attr("text-anchor","middle").attr("font-size",14)
    .attr("fill",d=>d==="POLE"?"#4a4a4a":"#a95a4c").text(d=>d);
  // legend
  const legend = d3.scaleLinear().domain([0,4.29]).range([413.7,272.8]);
  verticalGradient("qFill",v=>color(Math.max(v,.45)),4.29,0,272.8,413.7);
  g.append("text").attr("x",136).attr("y",261).attr("font-size",17.3).attr("fill","#111").text("-Log10_q-value");
  g.append("rect").attr("x",135.6).attr("y",272.8).attr("width",28.7).attr("height",141).attr("fill","url(#qFill)");
  qTicks.forEach(t=>{
    [[135.6,141.3],[158.6,164.3]].forEach(s=>{
      g.append("line").attr("x1",s[0]).attr("x2",s[1]).attr("y1",legend(t)).attr("y2",legend(t))
        .attr("stroke","#fff").attr("stroke-width",.9);
    });
    g.append("text").attr("x",173.5).attr("y",legend(t)).attr("dy",".35em").attr("font-size",13).attr("fill","#111").text(t);
  });
  const yt = g.append("text").attr("transform",`translate(94,336) rotate(-90)`).attr("text-anchor","middle").attr("font-size",16.5).attr("fill","#111");
  yt.append("tspan").text("− Log");
  yt.append("tspan").attr("font-size",12).attr("dy",4).text("10");
  yt.append("tspan").attr("dy",-4).text(" adj.P.Value");
  const xt = g.append("text").attr("x",386).attr("y",720).attr("text-anchor","middle").attr("font-size",17).attr("fill","#111");
  xt.append("tspan").text("Log");
  xt.append("tspan").attr("font-size",12).attr("dy",4).text("2");
  xt.append("tspan").attr("dy",-4).attr("font-style","italic").text("FC");
}

// ---------- B: circular heatmap ----------
function drawCircular(){
  const cx = 1384, cy = 379;
  const g = svg.append("g").attr("transform",`translate(${cx},${cy})`);
  const startDeg = 5.3, stepDeg = 3.51;
  const angle = d3.scaleBand().domain(circGenes).range([startDeg,startDeg+stepDeg*circGenes.length]);
  const rings = d3.scaleBand().domain(ringNames.slice().reverse()).range([93.5,237.5]);
  const color = d3.scaleLinear().domain(zScoreStops).range(zScoreColors).clamp(true);
  const rad = d=>(90-d)*Math.PI/180;
  const arc = d3.arc();
  ringNames.forEach((name,k)=>{
    g.selectAll(".ring"+k).data(circGenes).enter().append("path")
      .attr("d",gene=>arc({innerRadius:rings(name),outerRadius:rings(name)+rings.bandwidth(),
        startAngle:rad(angle(gene)+angle.bandwidth()),endAngle:rad(angle(gene))}))
      .attr("fill",(gene,i)=>color(ringValues[k][i]))
      .attr("stroke","#fff").attr("stroke-width",1.3);
    svg.append("text").attr("transform",`translate(${cx+rings(name)+rings.bandwidth()/2},375) rotate(90)`)
      .attr("dy",".35em").attr("font-size",16.3).attr("fill","#111").text(name);
  });
  g.selectAll(".glabel").data(circGenes).enter().append("text")
    .attr("transform",d=>{
      const a = angle(d)+angle.bandwidth()/2;
      const flip = a>90&&a<270;
      return `rotate(${-a}) translate(245,0)`+(flip?" rotate(180)":"");
    })
    .attr("text-anchor",d=>{const a=angle(d)+angle.bandwidth()/2;return a>90&&a<270?"end":"start";})
    .attr("dy",".35em").attr("font-size",16.3).attr("fill","#111").text(d=>d);

  // dendrogram
  const leafRadius = 88;
  const geneAngle = i=>angle(circGenes[i])+angle.bandwidth()/2;
  const polar = (r,a)=>[r*Math.cos(a*Math.PI/180),-r*Math.sin(a*Math.PI/180)];
  function drawNode(node,stroke,width){
    if(typeof node==="number") return {a:geneAngle(node),r:leafRadius};
    const r = node[0];
    const kids = node.slice(1).map(c=>drawNode(c,stroke,width));
    const a0 = d3.min(kids,k=>k.a), a1 = d3.max(kids,k=>k.a);
    const p = d3.path();
    const s = polar(r,a0);
    p.moveTo(s[0],s[1]);
    p.arc(0,0,r,-a0*Math.PI/180,-a1*Math.PI/180,true);
    kids.forEach(k=>{
      const u = polar(r,k.a), v = polar(k.r,k.a);
      p.moveTo(u[0],u[1]); p.lineTo(v[0],v[1]);
    });
    g.append("path").attr("d",p.toString()).attr("fill","none").attr("stroke",stroke).attr("stroke-width",width);
    return {a:(a0+a1)/2,r:r};
  }
  const blue = drawNode(treeBlue,"#3c8fb5",1);
  const green = drawNode(treeGreen,"#4b9a32",1);
  const mag = drawNode(treeMagenta,"#b8487a",1);
  const joinR = 46;
  function link(top,kid,stroke){
    const u = polar(top,kid.a), v = polar(kid.r,kid.a);
    g.append("line").attr("x1",u[0]).attr("y1",u[1]).attr("x2",v[0]).attr("y2",v[1]).attr("stroke",stroke).attr("stroke-width",1.1);
  }
  link(joinR,blue,"#3c8fb5"); link(joinR,green,"#4b9a32");
  const upper = (blue.a+green.a)/2;
  const upperArc = d3.path();
  let s0 = polar(joinR,blue.a); upperArc.moveTo(s0[0],s0[1]);
  upperArc.arc(0,0,joinR,-blue.a*Math.PI/180,-upper*Math.PI/180,true);
  g.append("path").attr("d",upperArc.toString()).attr("fill","none").attr("stroke","#3c8fb5").attr("stroke-width",1.1);
  const upperArc2 = d3.path();
  s0 = polar(joinR,upper); upperArc2.moveTo(s0[0],s0[1]);
  upperArc2.arc(0,0,joinR,-upper*Math.PI/180,-green.a*Math.PI/180,true);
  g.append("path").attr("d",upperArc2.toString()).attr("fill","none").attr("stroke","#4b9a32").attr("stroke-width",1.1);
  const rootR = 19;
  link(rootR,{a:upper,r:joinR},"#111");
  link(rootR,mag,"#b8487a");
  const rootArc = d3.path();
  s0 = polar(rootR,upper); rootArc.moveTo(s0[0],s0[1]);
  rootArc.arc(0,0,rootR,-upper*Math.PI/180,-mag.a*Math.PI/180,true);
  g.append("path").attr("d",rootArc.toString()).attr("fill","none").attr("stroke","#111").attr("stroke-width",1.1);

  // legend
  const legend = d3.scaleLinear().domain([-2,2]).range([509,416]);
  verticalGradient("zFill",color,2.2,-2.2,411.7,513);
  svg.append("text").attr("x",1641.5).attr("y",402).attr("font-size",15.5).attr("font-weight","bold").text("Z-score");
  svg.append("rect").attr("x",1641.5).attr("y",411.7).attr("width",21).attr("height",101.3).attr("fill","url(#zFill)");
  zScoreTicks.forEach(t=>{
    [[1641.5,1645.5],[1658.5,1662.5]].forEach(s=>{
      svg.append("line").attr("x1",s[0]).attr("x2",s[1]).attr("y1",legend(t)).attr("y2",legend(t)).attr("stroke","#fff");
    });
    svg.append("text").attr("x",1666.5).attr("y",legend(t)).attr("dy",".35em").attr("font-size",15).attr("fill","#111").text(t);
  });
}

// ---------- C, D: ridgeline plots ----------
function drawRidges(o){
  const g = svg.append("g");
  const x = d3.scaleLinear().domain(o.xDomain).range([o.l,o.r]);
  const row = d3.scalePoint().domain(o.labels).range([o.first,o.last]);
  const step = row.step();
  [...o.minor,...o.major].forEach(v=>{
    g.append("line").attr("x1",x(v)).attr("x2",x(v)).attr("y1",o.t).attr("y2",o.b).attr("stroke","#efefef").attr("stroke-width",o.major.includes(v)?1:.6);
  });
  o.labels.forEach(l=>{
    g.append("line").attr("x1",o.l).attr("x2",o.r).attr("y1",row(l)).attr("y2",row(l)).attr("stroke","#efefef");
  });
  o.labels.forEach((label,i)=>{
    const base = row(label);
    const pts = o.ridges[i];
    const yv = h=>base-h*step;
    g.append("path").datum(pts).attr("fill",o.fill(i))
      .attr("d",d3.area().curve(d3.curveMonotoneX).x(d=>x(d[0])).y0(base).y1(d=>yv(d[1])));
    g.append("path").datum(pts).attr("fill","none").attr("stroke","#1a1a1a").attr("stroke-width",1.25)
      .attr("d",d3.line().curve(d3.curveMonotoneX).x(d=>x(d[0])).y(d=>yv(d[1])));
  });
  g.append("rect").attr("x",o.l).attr("y",o.t).attr("width",o.r-o.l).attr("height",o.b-o.t)
    .attr("fill","none").attr("stroke","#8a8a8a").attr("stroke-width",1.2);
  const ax = g.append("g").attr("transform",`translate(0,${o.b})`)
    .call(d3.axisBottom(x).tickValues(o.major).tickFormat(d=>String(d).replace("-","−")).tickSize(3));
  ax.select(".domain").remove();
  ax.selectAll("text").attr("font-size",o.tickFont).attr("fill","#222").style("font-family","Liberation Sans");
  const ay = g.append("g").attr("transform",`translate(${o.l},0)`)
    .call(d3.axisLeft(row).tickSize(3).tickFormat(""));
  ay.select(".domain").remove();
  ay.selectAll(".tick").each(function(d){
    const lines = d.split("\n");
    const t = d3.select(this).select("text").attr("font-size",o.labelFont).attr("fill","#222")
      .attr("text-anchor","end").attr("x",-5).attr("y",0).style("font-family","Liberation Sans").attr("dy",null).text(null);
    lines.forEach((s,k)=>{
      t.append("tspan").attr("x",-5).attr("y",(k-(lines.length-1)/2)*o.lineH+o.labelFont*.35).text(s);
    });
  });
}

function drawC(){
  drawRidges({labels:ridgeLabelsC,ridges:ridgesC,l:236,r:590,t:849,b:1464,first:885.2,last:1441,
    xDomain:[-2.267,2.045],major:[-2,-1,0,1,2],minor:[-1.5,-.5,.5,1.5],tickFont:14,labelFont:12.5,lineH:14.2,
    fill:()=>"#c6007e"});
  svg.append("text").attr("x",603.4).attr("y",1120).attr("font-size",10).attr("fill","#222").text("p.adjust");
  svg.append("rect").attr("x",603.4).attr("y",1125).attr("width",17.1).attr("height",78).attr("fill","#c6007e");
  svg.append("line").attr("x1",603.4).attr("x2",607).attr("y1",1164).attr("y2",1164).attr("stroke","#fff").attr("stroke-width",.6);
  svg.append("line").attr("x1",617).attr("x2",620.5).attr("y1",1164).attr("y2",1164).attr("stroke","#fff").attr("stroke-width",.6);
  svg.append("text").attr("x",624.5).attr("y",1167).attr("font-size",7.6).attr("fill","#333").text("9.971605e-09");
}

function drawD(){
  const pColor = d3.scaleLinear().domain([0,1e-4]).range(["#ff0000","#0000ff"]).interpolate(d3.interpolateLab);
  drawRidges({labels:ridgeLabelsD,ridges:ridgesD,l:1250.8,r:1606.7,t:875.5,b:1429.5,first:921.7,last:1408.6,
    xDomain:[-1.94,1.74],major:[-1,0,1],minor:[-1.5,-.5,.5,1.5],tickFont:12.5,labelFont:11.3,lineH:12.2,
    fill:i=>pColor(pAdjustD[i])});
  const legend = d3.scaleLinear().domain([2.5e-5,1e-4]).range([1141.4,1192]);
  verticalGradient("pFill",pColor,0,1.02e-4,1124,1193);
  svg.append("text").attr("x",1619.5).attr("y",1119).attr("font-size",9).attr("fill","#222").text("p.adjust");
  svg.append("rect").attr("x",1619.5).attr("y",1124).attr("width",14.3).attr("height",69).attr("fill","url(#pFill)");
  pAdjustTicks.forEach(t=>{
    svg.append("line").attr("x1",1619.5).attr("x2",1622.5).attr("y1",legend(t)).attr("y2",legend(t)).attr("stroke","#fff").attr("stroke-width",.6);
    svg.append("line").attr("x1",1630.8).attr("x2",1633.8).attr("y1",legend(t)).attr("y2",legend(t)).attr("stroke","#fff").attr("stroke-width",.6);
    svg.append("text").attr("x",1638).attr("y",legend(t)).attr("dy",".35em").attr("font-size",7.2).attr("fill","#333")
      .text(d3.format(".1e")(t).replace("e-5","e−05").replace("e-4","e−04"));
  });
}

// ---------- E: heatmap ----------
function drawHeat(){
  const g = svg.append("g");
  const cols = d3.range(heatRows[0].length);
  const x = d3.scaleBand().domain(cols).range([78.3,468.7]);
  const y = d3.scaleBand().domain(heatLabels).range([1626.4,2133.3]);
  const color = d3.scaleLinear().domain([-.5,0,.5]).range(["#0000ff","#ffffff","#ff0000"]).clamp(true);
  const gridLine = "#c6c6d2";
  heatRows.forEach((row,i)=>{
    g.selectAll(".c"+i).data(row.split("")).enter().append("rect")
      .attr("x",(d,j)=>x(j)).attr("y",y(heatLabels[i]))
      .attr("width",x.bandwidth()).attr("height",y.bandwidth())
      .attr("fill",d=>color(heatLevels[d])).attr("stroke",gridLine).attr("stroke-width",.7);
  });
  g.selectAll(".risk").data(cols).enter().append("rect")
    .attr("x",j=>x(j)).attr("y",1613.9).attr("width",x.bandwidth()).attr("height",9)
    .attr("fill",j=>j<riskLowColumns?"#f8938a":"#14cfcf")
    .attr("stroke",j=>j<riskLowColumns?"#c9b0ac":"#14cfcf").attr("stroke-width",.5);
  g.append("text").attr("x",471.5).attr("y",1621.5).attr("font-size",8).attr("font-weight","bold").text("risk");
  g.selectAll(".rowlab").data(heatLabels).enter().append("text")
    .attr("x",471.5).attr("y",d=>y(d)+y.bandwidth()/2).attr("dy",".35em")
    .attr("font-size",8.4).attr("fill","#222").text(d=>d);
  // row dendrogram
  const hx = d3.scaleLinear().domain([0,64]).range([77.5,13.5]);
  function drawNode(node){
    if(typeof node==="number") return {y:y(heatLabels[node-1])+y.bandwidth()/2,h:0};
    const h = node[0];
    const kids = node.slice(1).map(drawNode);
    const p = d3.path();
    p.moveTo(hx(h),d3.min(kids,k=>k.y)); p.lineTo(hx(h),d3.max(kids,k=>k.y));
    kids.forEach(k=>{p.moveTo(hx(h),k.y); p.lineTo(hx(k.h),k.y);});
    g.append("path").attr("d",p.toString()).attr("fill","none").attr("stroke","#333").attr("stroke-width",.9);
    return {y:(d3.min(kids,k=>k.y)+d3.max(kids,k=>k.y))/2,h:h};
  }
  drawNode(heatTree);
  // legends
  const legend = d3.scaleLinear().domain([-2.55,2.55]).range([1797.6,1613]);
  verticalGradient("heatFill",color,2.55,-2.55,1613,1797.6);
  g.append("rect").attr("x",658).attr("y",1613).attr("width",12.3).attr("height",184.6).attr("fill","url(#heatFill)");
  heatLegendTicks.forEach(t=>{
    g.append("text").attr("x",674).attr("y",legend(t)).attr("dy",".35em").attr("font-size",8).attr("fill","#222").text(t===0?"0":String(t).replace("-","−"));
  });
  g.append("text").attr("x",685.5).attr("y",1619).attr("font-size",8).attr("font-weight","bold").text("risk");
  [["high","#14cfcf",1621.8],["low","#f8938a",1634.7]].forEach(r=>{
    g.append("rect").attr("x",686.4).attr("y",r[2]).attr("width",13.3).attr("height",12.3).attr("fill",r[1]).attr("stroke","#ccc").attr("stroke-width",.5);
    g.append("text").attr("x",700.7).attr("y",r[2]+6).attr("dy",".35em").attr("font-size",8).attr("fill","#222").text(r[0]);
  });
}

// ---------- F: grouped boxplots ----------
function drawBoxes(){
  const g = svg.append("g");
  const f = {l:965.9,r:1919.4,t:1640.8,b:1884};
  const x = d3.scalePoint().domain(hallmarks).range([997.5,1887.8]);
  const y = d3.scaleLinear().domain([-.674,.815]).range([f.b,f.t]);
  [-.6,-.2,.2,.6].forEach(v=>g.append("line").attr("x1",f.l).attr("x2",f.r).attr("y1",y(v)).attr("y2",y(v)).attr("stroke","#f1f1f1").attr("stroke-width",.7));
  [-.4,0,.4,.8].forEach(v=>g.append("line").attr("x1",f.l).attr("x2",f.r).attr("y1",y(v)).attr("y2",y(v)).attr("stroke","#e9e9e9"));
  hallmarks.forEach(h=>g.append("line").attr("x1",x(h)).attr("x2",x(h)).attr("y1",f.t).attr("y2",f.b).attr("stroke","#e9e9e9"));
  const off = 6.6, bw = 12.6;
  function series(boxes,dir,fill){
    boxes.forEach((b,i)=>{
      const cx = x(hallmarks[i])+dir*off;
      g.append("line").attr("x1",cx).attr("x2",cx).attr("y1",y(b[0])).attr("y2",y(b[4])).attr("stroke","#333").attr("stroke-width",1.1);
      g.append("rect").attr("x",cx-bw/2).attr("width",bw).attr("y",y(b[3])).attr("height",y(b[1])-y(b[3]))
        .attr("fill",fill).attr("stroke","#333").attr("stroke-width",.8);
      g.append("line").attr("x1",cx-bw/2).attr("x2",cx+bw/2).attr("y1",y(b[2])).attr("y2",y(b[2])).attr("stroke","#3a1f1f").attr("stroke-width",2.4);
    });
  }
  series(boxesHigh,-1,groupColors.high);
  series(boxesLow,1,groupColors.low);
  outliersHigh.forEach(o=>g.append("circle").attr("cx",x(hallmarks[o[0]])-off).attr("cy",y(o[1])).attr("r",3.3).attr("fill","#222"));
  outliersLow.forEach(o=>g.append("circle").attr("cx",x(hallmarks[o[0]])+off).attr("cy",y(o[1])).attr("r",3.3).attr("fill","#222"));
  g.append("rect").attr("x",f.l).attr("y",f.t).attr("width",f.r-f.l).attr("height",f.b-f.t).attr("fill","none").attr("stroke","#444").attr("stroke-width",1.2);
  g.selectAll(".sig").data(sigMarks).enter().append("text")
    .attr("x",(d,i)=>x(hallmarks[i])).attr("y",y(.8)+5).attr("text-anchor","middle")
    .attr("font-size",11).attr("font-weight","bold").attr("fill","#222").text(d=>d);
  const ax = g.append("g").attr("transform",`translate(0,${f.b})`).call(d3.axisBottom(x).tickSize(4).tickFormat(""));
  ax.select(".domain").remove();
  const ay = g.append("g").attr("transform",`translate(${f.l},0)`).call(d3.axisLeft(y).tickValues([-.4,0,.4,.8]).tickFormat(d3.format(".1f")).tickSize(3));
  ay.select(".domain").remove();
  ay.selectAll("text").attr("font-size",12).attr("fill","#444").style("font-family","Liberation Sans");
  g.selectAll(".hall").data(hallmarks).enter().append("text")
    .attr("transform",d=>`translate(${x(d)},1975) rotate(-50)`).attr("text-anchor","middle").attr("dy",".35em")
    .attr("font-size",d=>d==="KRAS_SIGNALING_UP"?11.5:12.5).attr("font-style","italic").attr("fill","#555").text(d=>d);
  g.append("text").attr("x",1464.7).attr("y",2075).attr("text-anchor","middle").attr("font-size",14.5).attr("fill","#222").text("HALLMARK");
  g.append("text").attr("transform","translate(926,1779) rotate(-90)").attr("text-anchor","middle").attr("dy",".35em").attr("font-size",15).attr("fill","#222").text("Enriched Score");
  g.append("text").attr("x",1360).attr("y",1611.5).attr("font-size",17).attr("fill","#222").text("Group");
  [["high",1414,1442],["low",1476.6,1504]].forEach(r=>{
    const c = r[1]+9;
    g.append("line").attr("x1",c).attr("x2",c).attr("y1",1597.7).attr("y2",1614).attr("stroke","#333");
    g.append("rect").attr("x",r[1]).attr("y",1600.5).attr("width",18).attr("height",11).attr("fill",groupColors[r[0]]).attr("stroke","#333").attr("stroke-width",.8);
    g.append("line").attr("x1",r[1]).attr("x2",r[1]+18).attr("y1",1606).attr("y2",1606).attr("stroke","#3a1f1f").attr("stroke-width",1.6);
    g.append("text").attr("x",r[2]).attr("y",1610).attr("font-size",12.5).attr("fill","#222").text(r[0]);
  });
}

drawVolcano();
drawCircular();
drawC();
drawD();
drawHeat();
drawBoxes();
</script>
</body>
</html>
